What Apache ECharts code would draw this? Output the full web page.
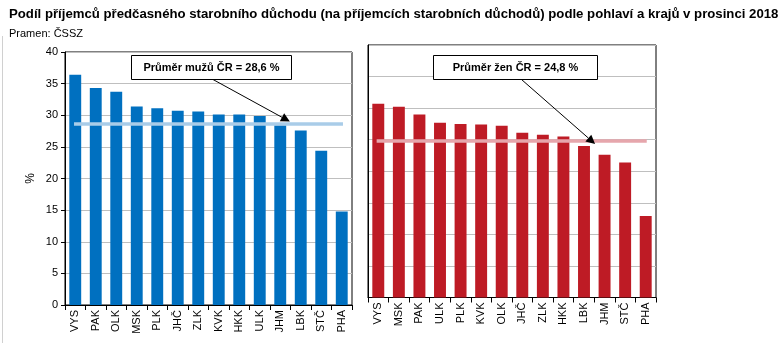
<!DOCTYPE html>
<html><head><meta charset="utf-8">
<script src="https://cdn.jsdelivr.net/npm/echarts@6/dist/echarts.min.js"></script>
<style>html,body{margin:0;padding:0;background:#fff}#c{width:782px;height:343px}</style>
</head><body><div id="c"></div>
<script>
const titleText = 'Podíl příjemců předčasného starobního důchodu (na příjemcích starobních důchodů) podle pohlaví a krajů v prosinci 2018';
const sourceText = 'Pramen: ČSSZ';
const categoriesMen = ['VYS','PAK','OLK','MSK','PLK','JHČ','ZLK','KVK','HKK','ULK','JHM','LBK','STČ','PHA'];
const valuesMen = [36.4,34.3,33.7,31.4,31.1,30.7,30.6,30.1,30.1,29.9,28.4,27.6,24.4,14.8];
const categoriesWomen = ['VYS','MSK','PAK','ULK','PLK','KVK','OLK','JHČ','ZLK','HKK','LBK','JHM','STČ','PHA'];
const valuesWomen = [30.7,30.2,29.0,27.7,27.5,27.4,27.2,26.1,25.8,25.5,24.0,22.6,21.4,12.9];
const avgMen = 28.6;
const avgWomen = 24.8;
const avgMenLabel = 'Průměr mužů ČR = 28,6 %';
const avgWomenLabel = 'Průměr žen ČR = 24,8 %';
const yMin = 0, yMax = 40, yInterval = 5;
const yAxisName = '%';

const FONT = '"Liberation Sans", Arial, sans-serif';
const NARROW = '"Liberation Sans Narrow", "Liberation Sans", Arial, sans-serif';
const chart = echarts.init(document.getElementById('c'));
const n = categoriesMen.length;

function catAxis(grid, cats) {
  return {type:'category', gridIndex:grid, data:cats,
    axisLine:{lineStyle:{color:'#000'}},
    axisTick:{show:true, length:5, lineStyle:{color:'#000'}},
    axisLabel:{rotate:90, margin:5, color:'#000', fontSize:11, fontFamily:FONT}};
}
function hidAxis(grid) {
  return {type:'value', gridIndex:grid, min:0, max:n, show:false};
}
function valAxis(grid, labels) {
  return {type:'value', gridIndex:grid, min:yMin, max:yMax, interval:yInterval,
    name: labels ? yAxisName : '', nameLocation:'middle', nameGap:28, nameRotate:90,
    nameTextStyle:{color:'#000', fontSize:12, fontFamily:FONT},
    axisLine:{show:true, lineStyle:{color:'#000'}},
    axisTick:{show:labels, length:4, lineStyle:{color:'#000'}},
    axisLabel:{show:labels, color:'#000', fontSize:11, fontFamily:FONT, margin:7},
    splitLine:{lineStyle:{color:'#BFBFBF'}}};
}

chart.setOption({
  animation:false,
  title:[
    {text:titleText, left:4, top:3, textStyle:{fontFamily:NARROW, fontWeight:'bold', fontSize:13.2, color:'#000'}},
    {text:sourceText, left:4, top:23, textStyle:{fontFamily:NARROW, fontWeight:'normal', fontSize:11, color:'#000'}}
  ],
  grid:[
    {left:65, top:52, width:287, height:253, show:true, borderColor:'#000', borderWidth:1},
    {left:368, top:45, width:288, height:252.5, show:true, borderColor:'#000', borderWidth:1}
  ],
  xAxis:[catAxis(0,categoriesMen), catAxis(1,categoriesWomen), hidAxis(0), hidAxis(1)],
  yAxis:[valAxis(0,true), valAxis(1,false)],
  series:[
    {type:'bar', xAxisIndex:0, yAxisIndex:0, data:valuesMen, barCategoryGap:'42%', itemStyle:{color:'#0070C0'}},
    {type:'bar', xAxisIndex:1, yAxisIndex:1, data:valuesWomen, barCategoryGap:'42%', itemStyle:{color:'#BE1B25'}},
    {type:'line', xAxisIndex:2, yAxisIndex:0, symbol:'none', z:5,
      data:[[0.44,avgMen],[n-0.44,avgMen]], lineStyle:{color:'#A9CCE8', width:3.5}},
    {type:'line', xAxisIndex:3, yAxisIndex:1, symbol:'none', z:5,
      data:[[0.42,avgWomen],[n-0.45,avgWomen]], lineStyle:{color:'#E6A6AC', width:3.5}}
  ]
});

function arrow(from, tip) {
  const dx = tip[0]-from[0], dy = tip[1]-from[1];
  const L = Math.sqrt(dx*dx+dy*dy), ux = dx/L, uy = dy/L;
  const hl = 9, hw = 4.5;
  const bx = tip[0]-ux*hl, by = tip[1]-uy*hl;
  return [
    {type:'line', shape:{x1:from[0], y1:from[1], x2:bx, y2:by}, style:{stroke:'#000', lineWidth:1}, z:100},
    {type:'polygon', shape:{points:[tip,[bx-uy*hw, by+ux*hw],[bx+uy*hw, by-ux*hw]]}, style:{fill:'#000'}, z:100}
  ];
}
function box(x, y, w, h, text) {
  return [
    {type:'rect', shape:{x:x, y:y, width:w, height:h}, style:{fill:'#fff', stroke:'#000', lineWidth:1}, z:100},
    {type:'text', x:x+w/2, y:y+h/2, style:{text:text, fill:'#000', font:'bold 11px '+FONT, align:'center', verticalAlign:'middle'}, z:101}
  ];
}
const tipM = chart.convertToPixel({xAxisIndex:2, yAxisIndex:0}, [10.97, avgMen]);
const tipW = chart.convertToPixel({xAxisIndex:3, yAxisIndex:1}, [11.04, avgWomen]);
chart.setOption({graphic:[
  {type:'line', shape:{x1:2.5, y1:36, x2:2.5, y2:343}, style:{stroke:'#D0D0D0', lineWidth:1}},
  ...box(131.5, 55.5, 160, 24, avgMenLabel),
  ...box(433.5, 55.5, 164, 24, avgWomenLabel),
  ...arrow([213, 79.5], [tipM[0], tipM[1]-2.5]),
  ...arrow([521.5, 79.5], [tipW[0], tipW[1]+3])
]});
</script></body></html>
